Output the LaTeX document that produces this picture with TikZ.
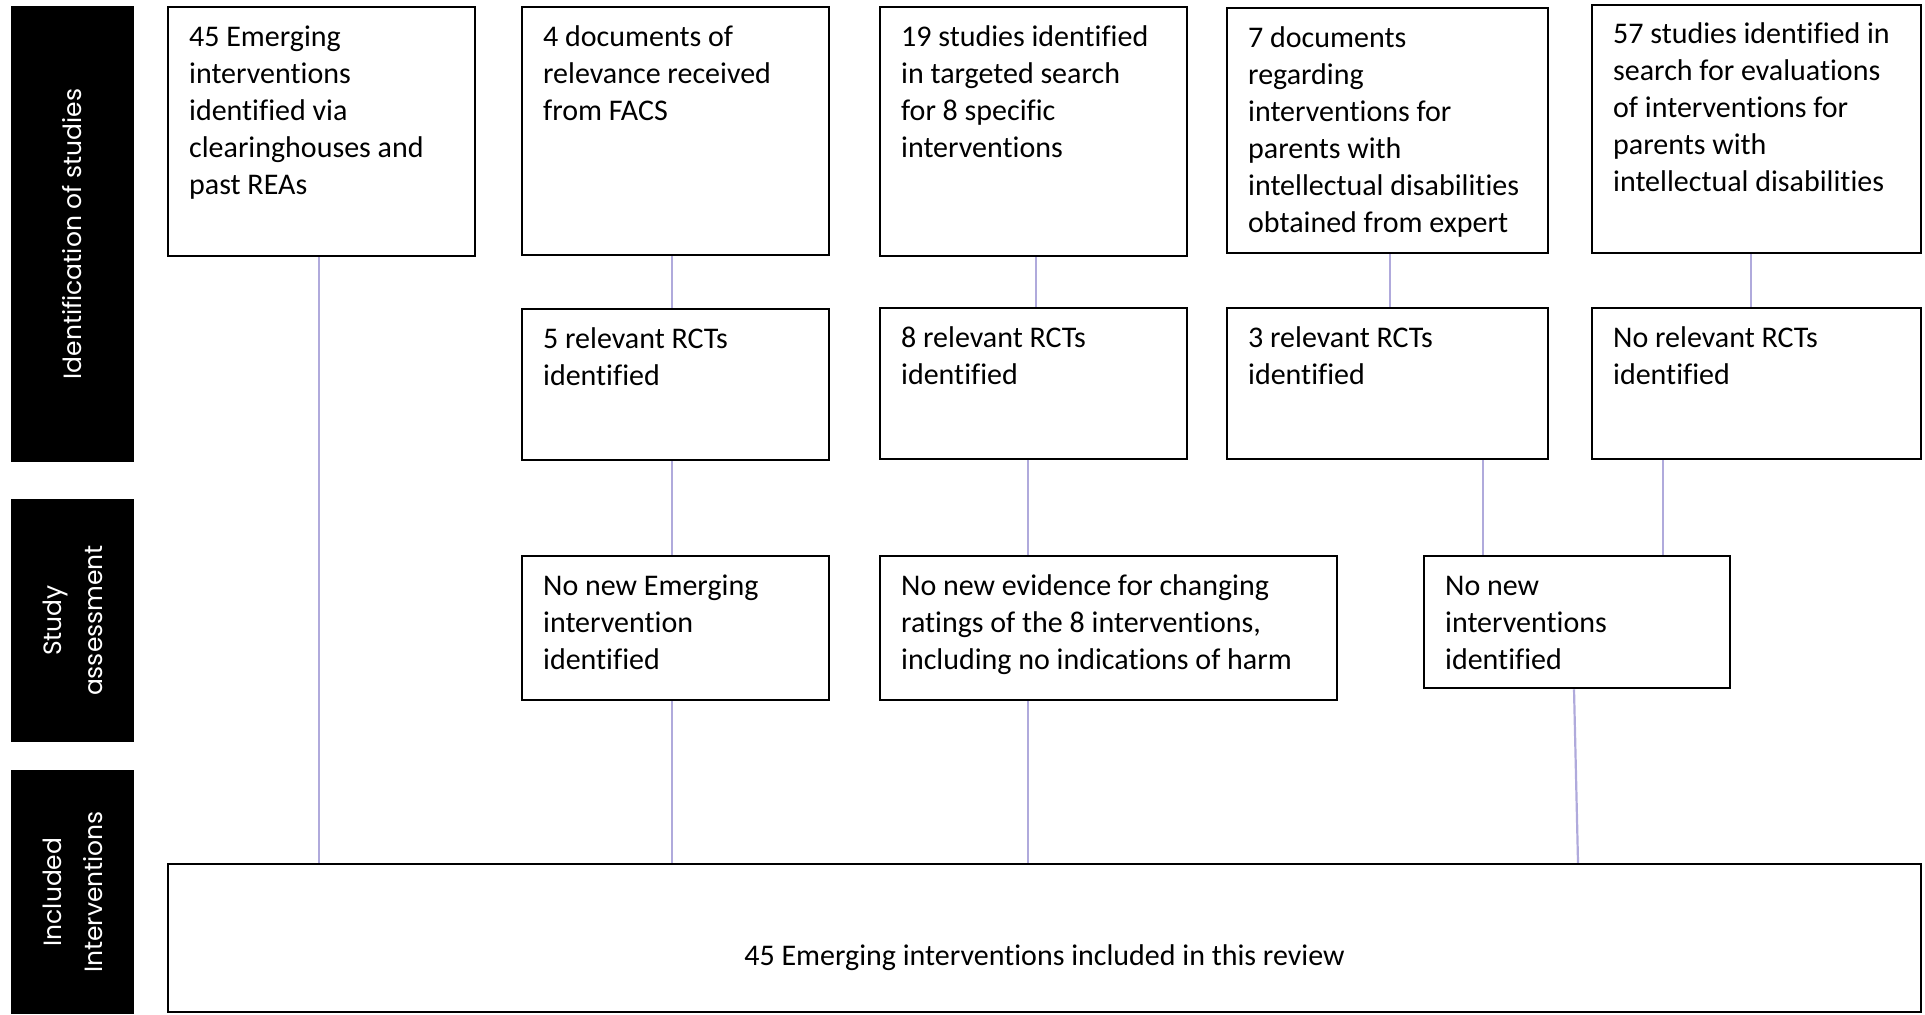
\documentclass[tikz,border=0pt]{standalone}
\usepackage{fontspec}
\setmainfont[Ligatures=NoCommon]{Carlito}
\newfontfamily\labelfont{Poppins}
\usetikzlibrary{calc}
\definecolor{conncol}{RGB}{176,170,220}
\newcommand{\fl}{\rule{0pt}{13pt}}
\tikzset{
  box/.style={draw=black, line width=1.25pt, fill=white, inner sep=0pt},
  txt/.style={anchor=north west, inner sep=0pt, align=left, font=\fontsize{15pt}{18.5pt}\selectfont},
  lab/.style={fill=black, text=white, rotate=90, inner sep=0pt, align=center, font=\labelfont\fontsize{12.5pt}{20.5pt}\selectfont},
  conn/.style={draw=conncol, line width=1.1pt}
}
\begin{document}
\begin{tikzpicture}[x=0.5pt, y=-0.5pt]
\useasboundingbox (0,0) rectangle (1925,1014);
% side labels
\node[lab, minimum width=228pt, minimum height=61.5pt] (L1) at (72.5,234) {Identification of studies};
\node[lab, minimum width=121.5pt, minimum height=61.5pt] (L2) at (72.5,620.5) {Study\\assessment};
\node[lab, minimum width=122pt, minimum height=61.5pt] (L3) at (72.5,892) {Included\\Interventions};
% row 1
\node[box, minimum width=153.5pt, minimum height=124.5pt] (A) at (321.5,131.5) {};
\node[box, minimum width=153.5pt, minimum height=124pt] (B1) at (675.5,131) {};
\node[box, minimum width=153.5pt, minimum height=124.5pt] (C1) at (1033.5,131.5) {};
\node[box, minimum width=160.5pt, minimum height=122.5pt] (D1) at (1387.5,130.5) {};
\node[box, minimum width=164.5pt, minimum height=124pt] (E1) at (1756.5,129) {};
% row 2
\node[box, minimum width=153.5pt, minimum height=75.5pt] (B2) at (675.5,384.5) {};
\node[box, minimum width=153.5pt, minimum height=75.5pt] (C2) at (1033.5,383.5) {};
\node[box, minimum width=160.5pt, minimum height=75.5pt] (D2) at (1387.5,383.5) {};
\node[box, minimum width=164.5pt, minimum height=75.5pt] (E2) at (1756.5,383.5) {};
% row 3
\node[box, minimum width=153.5pt, minimum height=72pt] (F) at (675.5,628) {};
\node[box, minimum width=228.5pt, minimum height=72pt] (H) at (1108.5,628) {};
\node[box, minimum width=153pt, minimum height=66pt] (I) at (1577,622) {};
% bottom
\node[box, minimum width=876.5pt, minimum height=74pt] (G) at (1044.5,938) {};
% texts
\node[txt] (At) at ($(A.north west)+(22,14.5)$) {\fl 45 Emerging\\interventions\\identified via\\clearinghouses and\\past REAs};
\node[txt] (B1t) at ($(B1.north west)+(22,14.5)$) {\fl 4 documents of\\relevance received\\from FACS};
\node[txt] (C1t) at ($(C1.north west)+(22,14.5)$) {\fl 19 studies identified\\in targeted search\\for 8 specific\\interventions};
\node[txt] (D1t) at ($(D1.north west)+(22,14.5)$) {\fl 7 documents\\regarding\\interventions for\\parents with\\intellectual disabilities\\obtained from expert};
\node[txt] (E1t) at ($(E1.north west)+(22,13.5)$) {\fl 57 studies identified in\\search for evaluations\\of interventions for\\parents with\\intellectual disabilities};
\node[txt] (B2t) at ($(B2.north west)+(22,14.5)$) {\fl 5 relevant RCTs\\identified};
\node[txt] (C2t) at ($(C2.north west)+(22,14.5)$) {\fl 8 relevant RCTs\\identified};
\node[txt] (D2t) at ($(D2.north west)+(22,14.5)$) {\fl 3 relevant RCTs\\identified};
\node[txt] (E2t) at ($(E2.north west)+(22,14.5)$) {\fl No relevant RCTs\\identified};
\node[txt] (Ft) at ($(F.north west)+(22,14.5)$) {\fl No new Emerging\\intervention\\identified};
\node[txt] (Ht) at ($(H.north west)+(22,14.5)$) {\fl No new evidence for changing\\ratings of the 8 interventions,\\including no indications of harm};
\node[txt] (It) at ($(I.north west)+(22,14.5)$) {\fl No new\\interventions\\identified};
\node[anchor=base, inner sep=0pt, font=\fontsize{15pt}{18.5pt}\selectfont] (Gt) at (1044.5,965) {45 Emerging interventions included in this review};
% connectors
\draw[conn] (A.south -| 319,0) -- (G.north -| 319,0);
\draw[conn] (B1.south -| 672,0) -- (B2.north -| 672,0);
\draw[conn] (B2.south -| 672,0) -- (F.north -| 672,0);
\draw[conn] (F.south -| 672,0) -- (G.north -| 672,0);
\draw[conn] (C1.south -| 1036,0) -- (C2.north -| 1036,0);
\draw[conn] (C2.south -| 1028,0) -- (H.north -| 1028,0);
\draw[conn] (H.south -| 1028,0) -- (G.north -| 1028,0);
\draw[conn] (D1.south -| 1390,0) -- (D2.north -| 1390,0);
\draw[conn] (D2.south -| 1483,0) -- (I.north -| 1483,0);
\draw[conn] (E1.south -| 1751,0) -- (E2.north -| 1751,0);
\draw[conn] (E2.south -| 1663,0) -- (I.north -| 1663,0);
\draw[conn] (I.south -| 1574,0) -- (G.north -| 1578,0);
\end{tikzpicture}
\end{document}
